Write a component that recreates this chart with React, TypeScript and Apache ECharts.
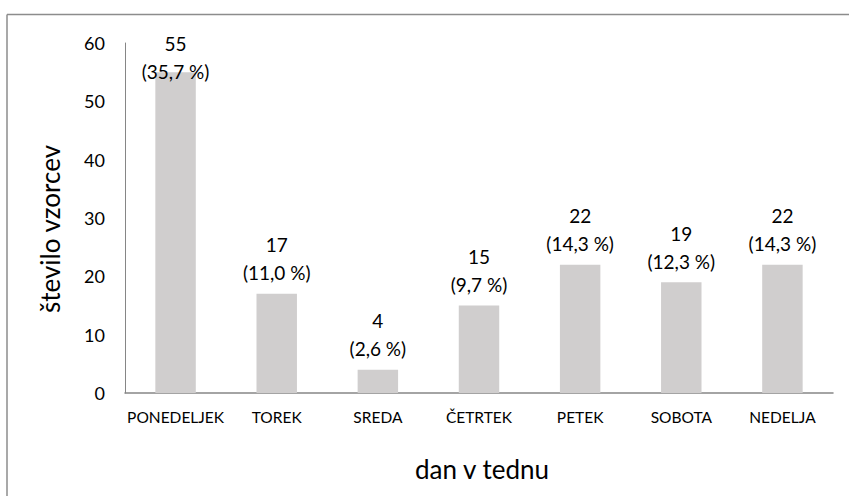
import React, { useEffect, useRef } from "react";
import * as echarts from "echarts";

const categories = ["PONEDELJEK", "TOREK", "SREDA", "ČETRTEK", "PETEK", "SOBOTA", "NEDELJA"];
const counts = [55, 17, 4, 15, 22, 19, 22];
const percentLabels = ["35,7", "11,0", "2,6", "9,7", "14,3", "12,3", "14,3"];
const yTitle = "število vzorcev";
const xTitle = "dan v tednu";

const FONT = "Lato, 'Open Sans', sans-serif";

export default function App() {
  const ref = useRef<HTMLDivElement>(null);
  useEffect(() => {
    if (!ref.current) return;
    const chart = echarts.init(ref.current, undefined, { renderer: "svg" });
    const data = counts.map((v, i) =>
      i === 0
        ? { value: v, label: { distance: -13 } }
        : { value: v }
    );
    chart.setOption({
      animation: false,
      backgroundColor: "#ffffff",
      grid: { left: 125, right: 16, top: 43, bottom: 103, containLabel: false },
      xAxis: {
        type: "category",
        data: categories,
        axisLine: { show: true, lineStyle: { color: "#868686", width: 1.5 } },
        axisTick: { show: false },
        axisLabel: { color: "#000", fontFamily: FONT, fontSize: 15.5, margin: 16, interval: 0 },
        splitLine: { show: false },
      },
      yAxis: {
        type: "value",
        min: 0,
        max: 60,
        interval: 10,
        axisLine: { show: true, lineStyle: { color: "#868686", width: 1 } },
        axisTick: { show: false },
        axisLabel: { color: "#000", fontFamily: FONT, fontSize: 18, margin: 20 },
        splitLine: { show: false },
      },
      series: [
        {
          type: "bar",
          data,
          barWidth: "40%",
          itemStyle: { color: "#d0cece" },
          label: {
            show: true,
            position: "top",
            distance: 7,
            color: "#000",
            fontFamily: FONT,
            fontSize: 19,
            lineHeight: 28,
            align: "center",
            formatter: (p: any) => `${p.value}\n(${percentLabels[p.dataIndex]} %)`,
          },
        },
      ],
      graphic: [
        {
          type: "line",
          shape: { x1: 7, y1: 14.5, x2: 849, y2: 14.5 },
          style: { stroke: "#8c8c8c", lineWidth: 1.5 },
        },
        {
          type: "line",
          shape: { x1: 7, y1: 14.5, x2: 7, y2: 496 },
          style: { stroke: "#8c8c8c", lineWidth: 1.5 },
        },
        {
          type: "text",
          x: 50,
          y: 229,
          rotation: Math.PI / 2,
          style: {
            text: yTitle,
            fill: "#000",
            font: `26px ${FONT}`,
            align: "center",
            verticalAlign: "middle",
          },
        },
        {
          type: "text",
          x: 482,
          y: 469,
          style: {
            text: xTitle,
            fill: "#000",
            font: `26px ${FONT}`,
            align: "center",
            verticalAlign: "middle",
          },
        },
      ],
    });
    return () => chart.dispose();
  }, []);
  return <div ref={ref} style={{ width: 849, height: 496, position: "absolute", left: 0, top: 0 }} />;
}
